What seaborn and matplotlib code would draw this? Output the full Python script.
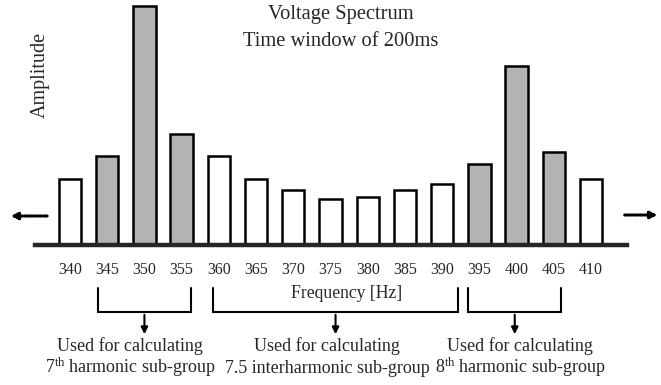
import matplotlib
matplotlib.use("Agg")
import matplotlib.pyplot as plt
import seaborn as sns
import pandas as pd

# ---- data ----
frequencies = ["340", "345", "350", "355", "360", "365", "370", "375",
               "380", "385", "390", "395", "400", "405", "410"]
amplitudes = [66, 89, 239, 111, 89, 66, 55, 46, 48, 55, 61, 81, 179, 93, 66]
harmonic = [False, True, True, True, False, False, False, False,
            False, False, False, True, True, True, False]
group_line1 = ["Used for calculating"] * 3
group_line2 = ["7$^{\\rm th}$ harmonic sub-group",
               "7.5 interharmonic sub-group",
               "8$^{\\rm th}$ harmonic sub-group"]
group_spans = [(0.75, 3.25), (3.85, 10.42), (10.7, 13.2)]
group_text_x = [1.61, 6.91, 12.09]
title_lines = ["Voltage Spectrum", "Time window of 200ms"]

sns.set_style("white")
plt.rcParams["font.family"] = ["Liberation Serif", "DejaVu Serif"]
plt.rcParams["mathtext.fontset"] = "custom"
plt.rcParams["mathtext.rm"] = "Liberation Serif"
plt.rcParams["mathtext.it"] = "Liberation Serif:italic"

df = pd.DataFrame({"freq": frequencies, "amp": amplitudes, "harm": harmonic})

fig = plt.figure(figsize=(6.61, 3.85), dpi=100)
ax = fig.add_axes([0, 0, 1, 1])
sns.barplot(data=df, x="freq", y="amp", hue="harm", order=frequencies,
            palette={True: "#b3b3b3", False: "white"}, dodge=False,
            width=0.6, edgecolor="black", linewidth=1.8, legend=False, ax=ax)

ax.set_xlim(-1.881, 15.88)
ax.set_ylim(-140, 245)
for s in ["top", "left", "right"]:
    ax.spines[s].set_visible(False)
ax.spines["bottom"].set_position(("data", 0))
ax.spines["bottom"].set_linewidth(3.2)
ax.spines["bottom"].set_bounds(-0.94, 14.96)
ax.set_yticks([])
ax.tick_params(axis="x", length=0, pad=12, labelsize=11.5)
ax.set_xlabel("")
ax.set_ylabel("")

# titles
ax.text(7.28, 230, title_lines[0], ha="center", va="center", fontsize=14.8)
ax.text(7.28, 204, title_lines[1], ha="center", va="center", fontsize=14.8)
ax.text(-0.8, 170, "Amplitude", rotation=90, ha="center", va="center", fontsize=14.5)
ax.text(7.42, -48, "Frequency [Hz]", ha="center", va="center", fontsize=12.7)

# side arrows
ax.annotate("", xy=(-1.67, 29), xytext=(-0.54, 29),
            arrowprops=dict(arrowstyle="-|>", ls=(0, (1, 0.6)), lw=2.2,
                            color="black", mutation_scale=10))
ax.annotate("", xy=(15.86, 30), xytext=(14.83, 30),
            arrowprops=dict(arrowstyle="-|>", ls=(0, (1, 0.6)), lw=2.2,
                            color="black", mutation_scale=10))

# brackets
for (x0, x1), l1, l2, tx in zip(group_spans, group_line1, group_line2, group_text_x):
    ax.plot([x0, x0, x1, x1], [-43, -67, -67, -43], color="black", lw=1.5,
            solid_joinstyle="miter")
    xc = (x0 + x1) / 2
    ax.annotate("", xy=(xc, -92), xytext=(xc, -67),
                arrowprops=dict(arrowstyle="-|>", lw=1.5, color="black",
                                mutation_scale=10))
    ax.text(tx, -106, l1, ha="center", va="baseline", fontsize=13)
    ax.text(tx, -128, l2, ha="center", va="baseline", fontsize=13)

fig.savefig("out.png", dpi=100)
